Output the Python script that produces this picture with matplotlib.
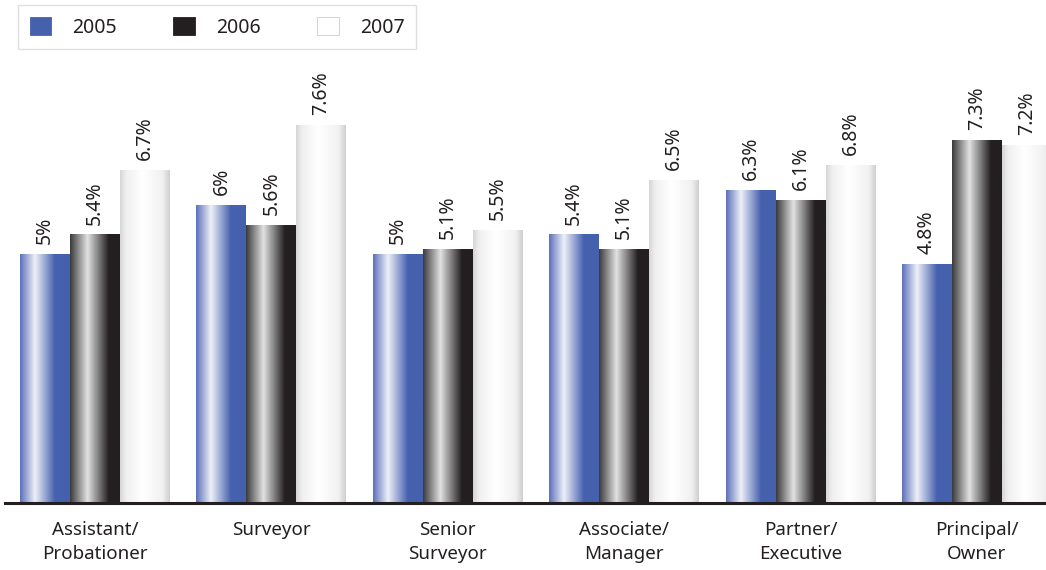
import numpy as np
import matplotlib
matplotlib.use("Agg")
import matplotlib.pyplot as plt
from matplotlib.colors import LinearSegmentedColormap
from matplotlib.patches import Patch

plt.rcParams['font.family'] = ['Noto Sans', 'DejaVu Sans']

categories = ["Assistant/\nProbationer", "Surveyor", "Senior\nSurveyor",
              "Associate/\nManager", "Partner/\nExecutive", "Principal/\nOwner"]
years = ["2005", "2006", "2007"]
v2005 = [5.0, 6.0, 5.0, 5.4, 6.3, 4.8]
v2006 = [5.4, 5.6, 5.1, 5.1, 6.1, 7.3]
v2007 = [6.7, 7.6, 5.5, 6.5, 6.8, 7.2]
labels2005 = ["5%", "6%", "5%", "5.4%", "6.3%", "4.8%"]
labels2006 = ["5.4%", "5.6%", "5.1%", "5.1%", "6.1%", "7.3%"]
labels2007 = ["6.7%", "7.6%", "5.5%", "6.5%", "6.8%", "7.2%"]

text_col = "#231f20"
solid = ["#4561ae", "#231f20", "#ffffff"]
grads = [
    LinearSegmentedColormap.from_list("g05", [(0, "#5b70b9"), (0.3, "#eef0f8"), (0.7, "#4561ae"), (1, "#4561ae")]),
    LinearSegmentedColormap.from_list("g06", [(0, "#3a3a3a"), (0.35, "#e2e2e2"), (0.78, "#231f20"), (1, "#231f20")]),
    LinearSegmentedColormap.from_list("g07", [(0, "#d6d6d6"), (0.12, "#efefef"), (0.45, "#ffffff"), (0.85, "#f1f1f1"), (1, "#cfcfcf")]),
]

fig = plt.figure(figsize=(10.46, 5.70), dpi=100)
ax = fig.add_axes([5 / 1046, 67 / 570, 1041 / 1046, 453 / 570])

x = np.arange(len(categories))
w = 0.2834
series = [v2005, v2006, v2007]
lab_series = [labels2005, labels2006, labels2007]
grad = np.linspace(0, 1, 256).reshape(1, -1)

for k, (vals, labs) in enumerate(zip(series, lab_series)):
    bars = ax.bar(x + (k - 1) * w, vals, w, facecolor="none", edgecolor="none", zorder=2)
    for b, lab in zip(bars, labs):
        x0, y0 = b.get_x(), b.get_y()
        im = ax.imshow(grad, cmap=grads[k], aspect="auto", zorder=1,
                       extent=(x0, x0 + b.get_width(), y0, y0 + b.get_height()))
        im.set_clip_path(b)
        ax.text(x0 + b.get_width() / 2, b.get_height() + 0.2, lab, rotation=90,
                ha="center", va="bottom", fontsize=14, color=text_col)

ax.set_xlim(-0.510, 5.391)
ax.set_ylim(0, 9.11)
ax.set_xticks(x)
ax.set_xticklabels(categories, fontsize=13.5, color=text_col, linespacing=1.4)
ax.tick_params(axis="x", length=0, pad=13)
ax.set_yticks([])
for s in ["top", "right", "left"]:
    ax.spines[s].set_visible(False)
ax.spines["bottom"].set_linewidth(2.2)
ax.spines["bottom"].set_color(text_col)

handles = [Patch(facecolor=solid[i], edgecolor="#cccccc" if i == 2 else solid[i], linewidth=0.6)
           for i in range(3)]
leg = fig.legend(handles, years, loc="upper left", bbox_to_anchor=(18 / 1046, 1 - 5 / 570),
                 ncol=3, frameon=True, fancybox=False, fontsize=14, handlelength=1.1,
                 handleheight=1.1, handletextpad=1.1, columnspacing=2.9,
                 borderpad=0.6, borderaxespad=0)
leg.get_frame().set_edgecolor("#d8d8d8")
leg.get_frame().set_linewidth(1.0)
for t in leg.get_texts():
    t.set_color(text_col)

fig.savefig("out.png", dpi=100)
